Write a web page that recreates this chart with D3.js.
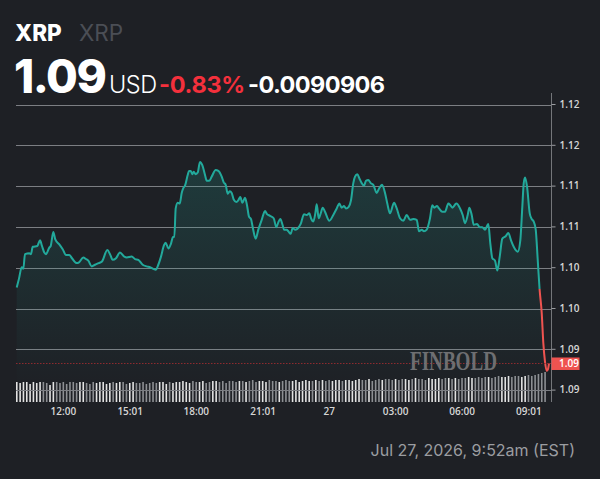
<!DOCTYPE html>
<html><head><meta charset="utf-8">
<script src="https://cdn.jsdelivr.net/npm/d3@7"></script>
<style>html,body{margin:0;padding:0;background:#1e2025;overflow:hidden}svg{display:block}</style>
</head><body>
<svg id="chart" width="600" height="479"></svg>
<script>
// ---------- data ----------
const symbol = "XRP";
const lastPriceText = "1.09";
const currency = "USD";
const changePct = "-0.83%";
const changeAbs = "-0.0090906";
const timestamp = "Jul 27, 2026, 9:52am (EST)";
const watermark = "FINBOLD";
const prevClose = 1.0998;
const currentPrice = 1.0907;
const currentPriceLabel = "1.09";

// hours counted from 2026-07-26 00:00
const priceHours = [
9.915,10.018,10.140,10.213,10.289,10.483,10.560,10.637,10.845,10.966,
11.057,11.161,11.237,11.386,11.450,11.567,11.657,11.838,11.991,12.140,
12.289,12.411,12.623,12.727,12.921,13.043,13.147,13.301,13.450,13.617,
13.766,14.005,14.127,14.249,14.398,14.578,14.772,14.881,15.107,15.256,
15.405,15.603,15.784,15.933,16.190,16.307,16.429,16.565,16.642,16.759,
16.881,16.971,17.030,17.093,17.183,17.274,17.364,17.436,17.513,17.635,
17.694,17.770,17.843,17.906,17.996,18.086,18.190,18.294,18.416,18.493,
18.610,18.718,18.899,19.016,19.170,19.260,19.350,19.441,19.531,19.621,
19.711,19.829,19.919,20.010,20.100,20.222,20.312,20.402,20.493,20.583,
20.705,20.822,20.976,21.125,21.215,21.350,21.517,21.635,21.725,21.815,
21.915,21.983,22.104,22.177,22.285,22.375,22.479,22.583,22.736,22.885,
23.007,23.125,23.202,23.305,23.396,23.459,23.549,23.639,23.730,23.833,
24.028,24.208,24.362,24.479,24.587,24.691,24.781,24.903,25.007,25.111,
25.188,25.292,25.382,25.491,25.594,25.685,25.789,25.897,26.014,26.168,
26.285,26.407,26.543,26.646,26.768,26.949,27.071,27.220,27.369,27.522,
27.671,27.820,27.974,28.078,28.200,28.303,28.425,28.574,28.678,28.769,
28.891,28.981,29.130,29.252,29.401,29.492,29.582,29.763,29.930,30.050,
30.154,30.276,30.349,30.457,30.547,30.696,30.818,30.935,31.057,31.206,
31.297,31.387,31.509,31.613,31.721,31.839,31.992,32.109,32.231,32.353,
32.534,32.651,32.741,32.805,32.864,32.954,33.076,33.166,33.256,33.347,
33.437,33.518,33.617,33.690,33.766,33.843,33.901,33.946];
const priceValues = [
1.1000,1.1011,1.1025,1.1023,1.1041,1.1042,1.1041,1.1050,1.1051,1.1058,
1.1051,1.1043,1.1041,1.1049,1.1051,1.1068,1.1059,1.1053,1.1047,1.1040,
1.1040,1.1036,1.1030,1.1031,1.1037,1.1035,1.1033,1.1026,1.1028,1.1030,
1.1032,1.1046,1.1041,1.1034,1.1036,1.1043,1.1038,1.1037,1.1038,1.1035,
1.1034,1.1028,1.1026,1.1025,1.1022,1.1028,1.1038,1.1052,1.1055,1.1048,
1.1054,1.1062,1.1062,1.1097,1.1104,1.1103,1.1116,1.1122,1.1125,1.1138,
1.1143,1.1143,1.1139,1.1142,1.1139,1.1141,1.1154,1.1150,1.1138,1.1131,
1.1131,1.1136,1.1144,1.1143,1.1136,1.1129,1.1126,1.1115,1.1118,1.1116,
1.1108,1.1105,1.1107,1.1111,1.1104,1.1110,1.1101,1.1087,1.1084,1.1072,
1.1060,1.1071,1.1083,1.1094,1.1090,1.1088,1.1085,1.1074,1.1080,1.1084,
1.1077,1.1071,1.1071,1.1069,1.1066,1.1073,1.1071,1.1072,1.1078,1.1090,
1.1089,1.1091,1.1085,1.1081,1.1091,1.1102,1.1085,1.1091,1.1098,1.1093,
1.1082,1.1089,1.1097,1.1103,1.1098,1.1100,1.1097,1.1099,1.1107,1.1128,
1.1136,1.1139,1.1134,1.1128,1.1125,1.1131,1.1132,1.1128,1.1126,1.1116,
1.1122,1.1126,1.1116,1.1103,1.1091,1.1104,1.1097,1.1085,1.1082,1.1089,
1.1083,1.1084,1.1083,1.1069,1.1071,1.1069,1.1071,1.1085,1.1101,1.1098,
1.1100,1.1097,1.1093,1.1093,1.1103,1.1101,1.1098,1.1103,1.1097,1.1089,
1.1079,1.1089,1.1098,1.1089,1.1077,1.1078,1.1074,1.1074,1.1071,1.1078,
1.1054,1.1036,1.1033,1.1021,1.1038,1.1060,1.1063,1.1067,1.1058,1.1050,
1.1044,1.1058,1.1099,1.1128,1.1135,1.1124,1.1091,1.1084,1.1081,1.1071,
1.1034,1.0999,1.0969,1.0932,1.0909,1.0898,1.0900,1.0907];

const volumeStartHour = 9.883;
const volumeStepMinutes = 9;
const volumeValues = [
20,19,20,20,18,20,19,20,20,19,17,20,20,19,20,18,20,20,19,20,20,19,18,20,19,20,20,18,19,20,19,20,20,18,19,20,19,19,20,18,
19,20,19,20,20,18,20,19,20,20,21,20,19,21,20,20,21,19,20,21,21,20,21,19,21,21,20,21,21,20,21,22,20,21,21,20,22,21,21,20,21,22,21,21,22,20,21,22,21,21,22,21,22,21,
22,21,22,22,21,22,22,21,22,23,22,22,23,21,22,23,22,23,23,22,23,22,23,23,22,23,24,23,23,22,24,23,23,24,23,24,24,23,24,23,24,24,25,24,24,
25,24,25,25,24,25,26,25,25,26,25,26,26,25,26,27,26,27,28,29,30];

const yTickValues = [1.0875,1.0925,1.0975,1.1025,1.1075,1.1125,1.1175,1.1225];
const yTickLabels = ["1.09","1.09","1.10","1.10","1.11","1.11","1.12","1.12"];
const xTickHours = [12, 15.0167, 18, 21.0167, 24, 27, 30, 33.0167];
const xTickLabels = ["12:00","15:01","18:00","21:01","27","03:00","06:00","09:01"];
const xDomainHours = [9.883, 33.946];

// ---------- setup ----------
const base = new Date(2026, 6, 26, 0, 0, 0).getTime();
const toDate = h => new Date(base + h * 3600000);
const prices = priceHours.map((h, i) => ({t: toDate(h), v: priceValues[i]}));
const volumes = volumeValues.map((v, i) => ({t: toDate(volumeStartHour + i * volumeStepMinutes / 60), v}));

const plotL = 16, plotR = 549, axisX = 551.5, volBottom = 402;
const svg = d3.select("#chart");
const BG = "#1e2025", TEAL = "#22a99b", RED = "#ef5350";
svg.append("rect").attr("width", 600).attr("height", 479).attr("fill", BG);

const x = d3.scaleTime().domain(xDomainHours.map(toDate)).range([plotL, plotR]);
const y = d3.scaleLinear().domain([1.0875, 1.1225]).range([389.6, 104]);
const yVol = d3.scaleLinear().domain([0, 30]).range([volBottom, volBottom - 30]);

const defs = svg.append("defs");
const areaGrad = defs.append("linearGradient").attr("id", "areaGrad")
  .attr("gradientUnits", "userSpaceOnUse").attr("x1", 0).attr("x2", 0).attr("y1", 160).attr("y2", 390);
areaGrad.append("stop").attr("offset", 0).attr("stop-color", TEAL).attr("stop-opacity", 0.2);
areaGrad.append("stop").attr("offset", 1).attr("stop-color", TEAL).attr("stop-opacity", 0.0);

const thr = y(prevClose);
const lineGrad = defs.append("linearGradient").attr("id", "lineGrad")
  .attr("gradientUnits", "userSpaceOnUse").attr("x1", 0).attr("x2", 0).attr("y1", 0).attr("y2", 479);
lineGrad.append("stop").attr("offset", thr / 479).attr("stop-color", TEAL);
lineGrad.append("stop").attr("offset", thr / 479).attr("stop-color", RED);

// ---------- header ----------
const hdr = svg.append("g").attr("font-family", "Inter, 'Open Sans', sans-serif");
hdr.append("text").attr("x", 15).attr("y", 40.7).attr("font-size", 22.5).attr("font-weight", 800)
  .attr("fill", "#ffffff").text(symbol);
hdr.append("text").attr("x", 79).attr("y", 40.7).attr("font-size", 22.5).attr("font-weight", 400)
  .attr("fill", "#4b4e55").text(symbol);
hdr.append("text").attr("x", 14).attr("y", 93.3).attr("font-size", 46).attr("font-weight", 800)
  .attr("fill", "#ffffff").attr("letter-spacing", -1.5).text(lastPriceText);
hdr.append("text").attr("x", 109).attr("y", 93.3).attr("font-size", 23.5).attr("font-weight", 300)
  .attr("fill", "#ffffff").attr("letter-spacing", -0.5).text(currency);
hdr.append("text").attr("x", 159).attr("y", 93.3).attr("font-size", 23.5).attr("font-weight", 700)
  .attr("fill", "#f4303c").attr("letter-spacing", -0.3).text(changePct);
hdr.append("text").attr("x", 248).attr("y", 93.3).attr("font-size", 23.5).attr("font-weight", 700)
  .attr("fill", "#ffffff").attr("letter-spacing", -0.6).text(changeAbs);

// ---------- volume ----------
const priceAt = t => {
  const i = d3.bisector(d => d.t).left(prices, t);
  if (i <= 0) return prices[0].v;
  if (i >= prices.length) return prices[prices.length - 1].v;
  const a = prices[i - 1], b = prices[i];
  return a.v + (b.v - a.v) * ((t - a.t) / (b.t - a.t));
};
svg.append("g").selectAll("rect").data(volumes).join("rect")
  .attr("x", d => x(d.t))
  .attr("width", 1.6)
  .attr("y", d => yVol(d.v))
  .attr("height", d => volBottom - yVol(d.v))
  .attr("fill", (d, i) => (i === 0 || priceAt(d.t) >= priceAt(volumes[i - 1].t)) ? "#e2e2e2" : "#8d8f93");

// ---------- grid ----------
const grid = svg.append("g").attr("transform", `translate(${axisX},0)`)
  .call(d3.axisLeft(y).tickValues(yTickValues).tickSize(axisX - plotL).tickFormat(""));
grid.select(".domain").remove();
grid.selectAll("line").attr("stroke", "#7c7e83").attr("stroke-width", 1)
  .attr("transform", function () { const v = +d3.select(this.parentNode).attr("transform").match(/,([\d.]+)/)[1]; return `translate(0,${Math.round(v) + 0.5 - v})`; });

// ---------- area + line ----------
svg.append("path").datum(prices)
  .attr("d", d3.area().x(d => x(d.t)).y0(volBottom).y1(d => y(d.v)).curve(d3.curveMonotoneX))
  .attr("fill", "url(#areaGrad)");
svg.append("path").datum(prices)
  .attr("d", d3.line().x(d => x(d.t)).y(d => y(d.v)).curve(d3.curveMonotoneX))
  .attr("fill", "none").attr("stroke", "url(#lineGrad)").attr("stroke-width", 2)
  .attr("stroke-linejoin", "round");

// current price dotted line
svg.append("line").attr("x1", plotL).attr("x2", axisX).attr("y1", Math.round(y(currentPrice)) + 0.5).attr("y2", Math.round(y(currentPrice)) + 0.5)
  .attr("stroke", "#8e2b2f").attr("stroke-width", 1).attr("stroke-dasharray", "1.5,1.5");

// watermark
svg.append("text").attr("x", 410).attr("y", 370).attr("font-family", "'Liberation Serif', 'DejaVu Serif', serif")
  .attr("font-size", 27).attr("font-weight", 700).attr("fill", "#6e6f72")
  .attr("textLength", 87).attr("lengthAdjust", "spacingAndGlyphs").text(watermark);

// ---------- y axis ----------
svg.append("line").attr("x1", axisX).attr("x2", axisX).attr("y1", 93).attr("y2", volBottom)
  .attr("stroke", "#74767a").attr("stroke-width", 1);
const yAxis = svg.append("g").attr("transform", `translate(${axisX},0)`)
  .call(d3.axisRight(y).tickValues(yTickValues).tickSize(4).tickPadding(4).tickFormat((d, i) => yTickLabels[i]));
yAxis.select(".domain").remove();
yAxis.selectAll("line").attr("stroke", "#9a9ca0");
yAxis.selectAll("text").attr("fill", "#d6d6d6").attr("font-size", 10).attr("font-weight", 600)
  .attr("font-family", "'Open Sans', sans-serif");

// current price label
const cy = y(currentPrice);
svg.append("rect").attr("x", axisX).attr("y", cy - 6).attr("width", 28).attr("height", 12.5).attr("fill", "#ef5350");
svg.append("text").attr("x", axisX + 7.5).attr("y", cy).attr("dy", "0.35em").attr("fill", "#ffffff")
  .attr("font-size", 10).attr("font-weight", 600).attr("font-family", "'Open Sans', sans-serif").text(currentPriceLabel);

// ---------- x axis ----------
const xAxis = svg.append("g").attr("transform", `translate(0,${volBottom})`)
  .call(d3.axisBottom(x).tickValues(xTickHours.map(toDate)).tickSize(0).tickPadding(6).tickFormat((d, i) => xTickLabels[i]));
xAxis.select(".domain").remove();
xAxis.selectAll("text").attr("fill", "#d6d6d6").attr("font-size", 10).attr("font-weight", 600)
  .attr("font-family", "'Open Sans', sans-serif");

// ---------- footer ----------
svg.append("text").attr("x", 575).attr("y", 456).attr("text-anchor", "end")
  .attr("font-family", "Inter, 'Open Sans', sans-serif").attr("font-size", 16).attr("fill", "#9b9da1")
  .text(timestamp);
</script>
</body></html>
